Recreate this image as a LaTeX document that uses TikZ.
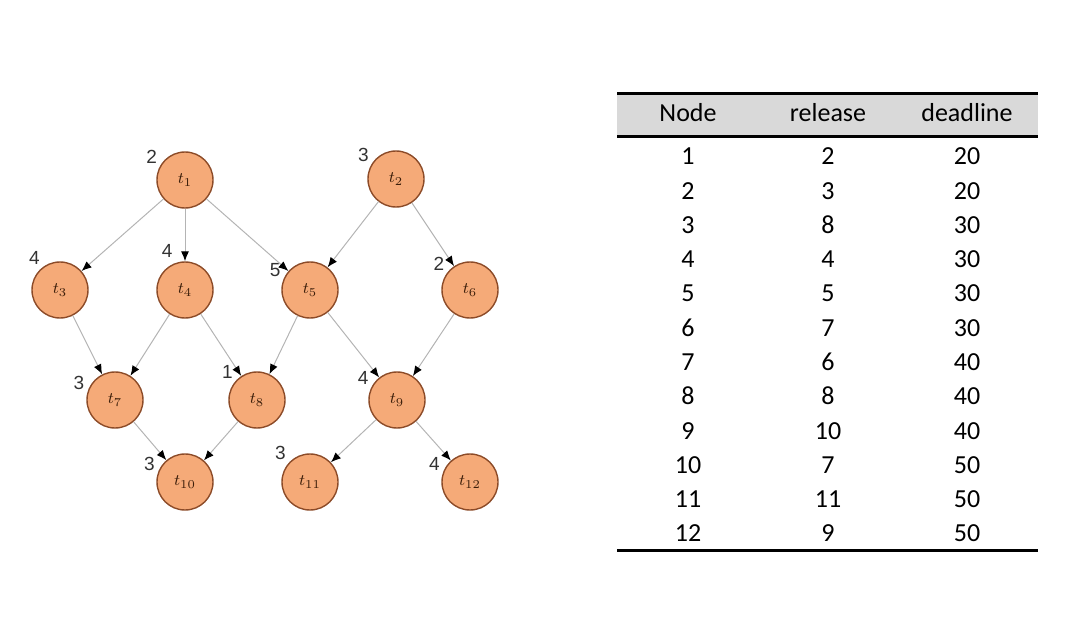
\documentclass[tikz,border=0pt]{standalone}
\usepackage{fontspec}
\setmainfont{Carlito}
\newfontfamily\numfont{Liberation Sans}
\usetikzlibrary{arrows.meta}

\definecolor{nodefill}{RGB}{245,170,120}
\definecolor{nodeedge}{RGB}{140,75,40}
\definecolor{taskink}{RGB}{60,30,10}
\definecolor{edgegray}{RGB}{180,180,180}
\definecolor{numgray}{RGB}{50,50,50}
\definecolor{headgray}{RGB}{217,217,217}

\begin{document}
\begin{tikzpicture}[
    x=0.5pt, y=-0.5pt,
    task/.style={draw=nodeedge,fill=nodefill,circle,line width=0.7pt,minimum size=28pt,inner sep=0pt,
                 font=\fontsize{8.5}{9}\selectfont,text=taskink},
    num/.style={font=\numfont\fontsize{9.5}{11}\selectfont,text=numgray,inner sep=0.5pt},
    dep/.style={draw=edgegray,line width=0.5pt,-{Latex[length=5pt,width=4pt,color=black]}},
    cell/.style={font=\fontsize{13}{15}\selectfont,inner sep=0pt,anchor=base}
    ]

    \useasboundingbox (0,0) rectangle (1089,631);

    % task graph
    \node[task, label={[num,label distance=1pt]150:2}] (t1) at (185,180) {\(t_{1}\)};
    \node[task, label={[num,label distance=1pt]148:3}] (t2) at (396,179) {\(t_{2}\)};

    \node[task, label={[num,label distance=1pt]128:4}] (t3) at (60,290) {\(t_{3}\)};
    \node[task, label={[num,label distance=2pt]110:4}] (t4) at (185,290) {\(t_{4}\)};
    \node[task, label={[num,label distance=1pt]157:5}] (t5) at (310,290) {\(t_{5}\)};
    \node[task, label={[num,label distance=1pt]143:2}] (t6) at (470,290) {\(t_{6}\)};

    \node[task, label={[num,label distance=1pt]163:3}] (t7) at (115,400) {\(t_{7}\)};
    \node[task, label={[num,label distance=1pt]138:1}] (t8) at (257,400) {\(t_{8}\)};
    \node[task, label={[num,label distance=1pt]152:4}] (t9) at (397,400) {\(t_{9}\)};

    \node[task, label={[num,label distance=1pt]161:3}] (t10) at (185,482) {\(t_{10}\)};
    \node[task, label={[num,label distance=1pt]138:3}] (t11) at (310,482) {\(t_{11}\)};
    \node[task, label={[num,label distance=1pt]161:4}] (t12) at (470,482) {\(t_{12}\)};

    \path (t1) edge[dep] (t3)
    (t1) edge[dep] (t4)
    (t1) edge[dep] (t5)
    (t2) edge[dep] (t5)
    (t2) edge[dep] (t6)

    (t3) edge[dep] (t7)
    (t4) edge[dep] (t7)
    (t4) edge[dep] (t8)
    (t5) edge[dep] (t8)
    (t5) edge[dep] (t9)
    (t6) edge[dep] (t9)

    (t7) edge[dep] (t10)
    (t8) edge[dep] (t10)
    (t9) edge[dep] (t11)
    (t9) edge[dep] (t12)
    ;

    % table
    \fill[headgray] (617,95) rectangle (1038,136);
    \draw[line width=1.5pt] (617,93.5) -- (1038,93.5);
    \draw[line width=1.5pt] (617,137) -- (1038,137);
    \draw[line width=1.5pt] (617,550.5) -- (1038,550.5);

    \node[cell] (hnode) at (688,121.5) {Node};
    \node[cell] (hrel) at (828,121.5) {release};
    \node[cell] (hdl) at (967,121.5) {deadline};

    \foreach \n/\r/\d in {1/2/20, 2/3/20, 3/8/30, 4/4/30, 5/5/30, 6/7/30,
                          7/6/40, 8/8/40, 9/10/40, 10/7/50, 11/11/50, 12/9/50} {
        \node[cell] (n\n) at (688,{165+34.25*(\n-1)}) {\n};
        \node[cell] (rel\n) at (828,{165+34.25*(\n-1)}) {\r};
        \node[cell] (dl\n) at (967,{165+34.25*(\n-1)}) {\d};
    }

  \end{tikzpicture}
\end{document}
